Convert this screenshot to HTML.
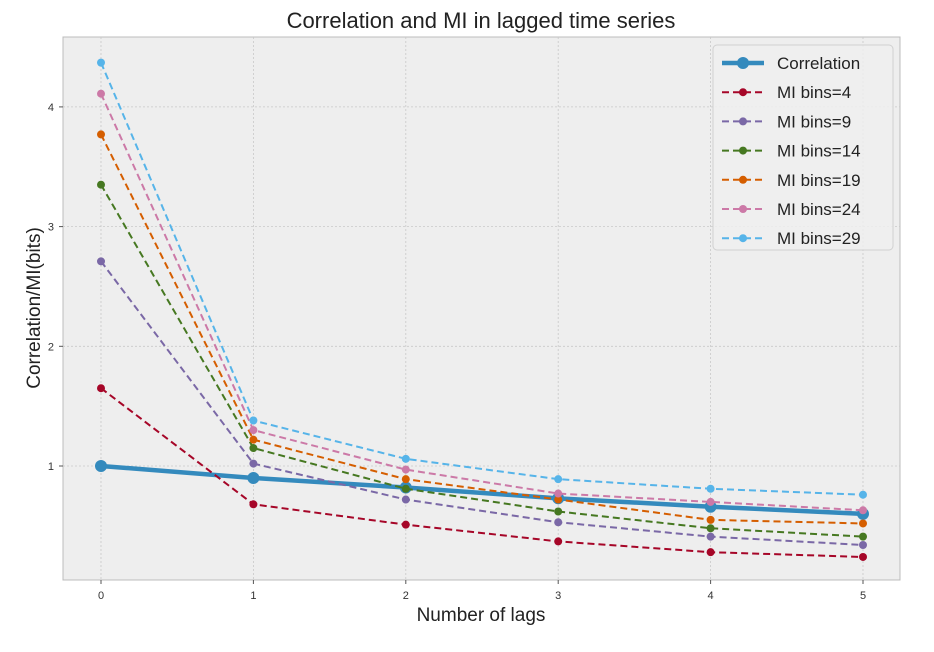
<!DOCTYPE html>
<html><head><meta charset="utf-8"><style>
body{margin:0;background:#fff;width:934px;height:647px;overflow:hidden;font-family:"Liberation Sans","DejaVu Sans",sans-serif}
</style></head><body>
<svg id="chart" width="934" height="647" xmlns="http://www.w3.org/2000/svg"></svg>
<script>
const categories=[0,1,2,3,4,5];
const xTicks=["0","1","2","3","4","5"];
const yTicks=[1,2,3,4];
const seriesNames=["Correlation","MI bins=4","MI bins=9","MI bins=14","MI bins=19","MI bins=24","MI bins=29"];
const seriesColors=["#348abd","#a60628","#7a68a6","#467821","#d55e00","#cc79a7","#56b4e9"];
const correlation=[1.0,0.9,0.82,0.73,0.66,0.60];
const mi4=[1.65,0.68,0.51,0.37,0.28,0.24];
const mi9=[2.71,1.02,0.72,0.53,0.41,0.34];
const mi14=[3.35,1.15,0.81,0.62,0.48,0.41];
const mi19=[3.77,1.22,0.89,0.72,0.55,0.52];
const mi24=[4.11,1.30,0.97,0.77,0.70,0.63];
const mi29=[4.37,1.38,1.06,0.89,0.81,0.76];
const allSeries=[correlation,mi4,mi9,mi14,mi19,mi24,mi29];

const NS="http://www.w3.org/2000/svg";
const svg=document.getElementById('chart');
const L=63,R=900,T=37,B=580;
const xs=v=>101+v*152.4;
const ys=v=>466-(v-1)*119.7;
function mk(t,a,p){const e=document.createElementNS(NS,t);for(const k in a)e.setAttribute(k,a[k]);(p||svg).appendChild(e);return e;}
const bg=mk('rect',{x:L,y:T,width:R-L,height:B-T,fill:'#eeeeee',stroke:'#bcbcbc','stroke-width':1});


categories.forEach((c,i)=>{
  const g=mk('line',{x1:xs(c),x2:xs(c),y1:T,y2:B,stroke:'#c8c8c8','stroke-width':0.8,'stroke-dasharray':'2,2'});
  
  
  mk('line',{x1:xs(c),x2:xs(c),y1:B,y2:B+4,stroke:'#555'});
  const t=mk('text',{x:xs(c),y:B+19,'text-anchor':'middle','font-size':11,fill:'#333'});
  t.textContent=xTicks[i];
  
  
});
yTicks.forEach(v=>{
  const g=mk('line',{x1:L,x2:R,y1:ys(v),y2:ys(v),stroke:'#c8c8c8','stroke-width':0.8,'stroke-dasharray':'2,2'});
  
  
  mk('line',{x1:L-4,x2:L,y1:ys(v),y2:ys(v),stroke:'#555'});
  const t=mk('text',{x:L-9,y:ys(v)+4,'text-anchor':'end','font-size':11,fill:'#333'});
  t.textContent=v;
  
  
});
allSeries.forEach((s,si)=>{
  const g=mk('g',{});
  
  
  const pts=s.map((v,i)=>xs(categories[i])+','+ys(v)).join(' ');
  const isC=si===0;
  mk('polyline',{points:pts,fill:'none',stroke:seriesColors[si],'stroke-width':isC?4.5:2,'stroke-dasharray':isC?'none':'7,4'},g);
  s.forEach((v,i)=>{
    const c=mk('circle',{cx:xs(categories[i]),cy:ys(v),r:isC?6:4,fill:seriesColors[si]},g);
    
    
  });
});
// title & axis labels
let t=mk('text',{x:481,y:28,'text-anchor':'middle','font-size':22,fill:'#222'});t.textContent='Correlation and MI in lagged time series';


t=mk('text',{x:481,y:621,'text-anchor':'middle','font-size':19,fill:'#222'});t.textContent='Number of lags';


t=mk('text',{x:40,y:308,'text-anchor':'middle','font-size':19,fill:'#222',transform:'rotate(-90 40 308)'});t.textContent='Correlation/MI(bits)';


// legend
const lg=mk('g',{});


mk('rect',{x:713,y:45,width:180,height:205,rx:4,fill:'#eeeeee','fill-opacity':0.85,stroke:'#d0d0d0'},lg);
seriesNames.forEach((n,i)=>{
  const y=63+i*29.2;const isC=i===0;
  const e=mk('g',{},lg);
  
  
  mk('line',{x1:722,x2:764,y1:y,y2:y,stroke:seriesColors[i],'stroke-width':isC?4.5:2,'stroke-dasharray':isC?'none':'7,4'},e);
  mk('circle',{cx:743,cy:y,r:isC?6:4,fill:seriesColors[i]},e);
  const tx=mk('text',{x:777,y:y+6,'font-size':17,fill:'#222'},e);tx.textContent=n;
});
</script>
</body></html>
